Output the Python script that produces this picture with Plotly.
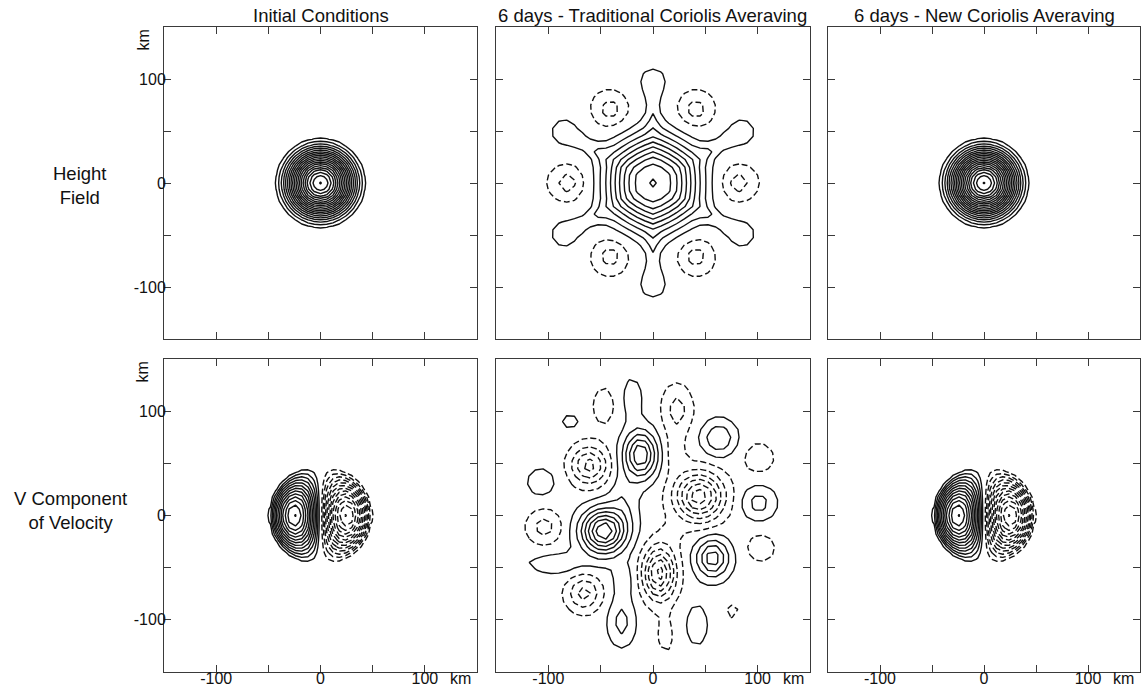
import numpy as np
import plotly.graph_objects as go

# ---------------- text ----------------
COLUMN_TITLES = ["Initial Conditions",
                 "6 days - Traditional Coriolis Averaving",
                 "6 days - New Coriolis Averaving"]
ROW_LABELS = ["Height<br>Field", "V Component<br>of Velocity"]
TICK_VALUES = [-100, -50, 0, 50, 100]
TICK_TEXT = ["-100", "", "0", "", "100"]
AXIS_RANGE = [-150, 150]

# ---------------- data (km, field units) ----------------
# compact height bump (initial and "new" scheme)
H_BUMP_RADIUS = [50, 50]          # initial, new
H_BUMP_PEAK = [20.1, 20.1]
H_BUMP_LEVELS = [1, 20, 1]         # start, end, step

# height after 6 days, traditional averaging
H_TRAD_CORE_PEAK = 10.06
H_TRAD_CORE_RADIUS = 45.4
H_TRAD_CORE_POWER = 2.46
H_TRAD_HEX_MIX = 0.55
H_TRAD_ARM_ANGLES = [30, 90, 150, 210, 270, 330]
H_TRAD_ARM_NECK_AMP = 1.15
H_TRAD_ARM_NECK_WIDTH = 5.0
H_TRAD_ARM_NECK_CENTER = 70
H_TRAD_ARM_NECK_HALF = 20
H_TRAD_ARM_KNOB_R = 98
H_TRAD_ARM_KNOB_AMP = 1.5
H_TRAD_ARM_KNOB_SIGMA = 13
H_TRAD_LOW_ANGLES = [0, 60, 120, 180, 240, 300]
H_TRAD_LOW_R = 81
H_TRAD_LOW_AMP = -2.0
H_TRAD_LOW_SIGMA = 12
H_TRAD_POS_LEVELS = [1, 10, 1]
H_TRAD_NEG_LEVELS = [-1.5, -0.5, 1]

# V component dipole (initial and "new" scheme)
V_DIPOLE_RADIUS = [50, 50]
V_DIPOLE_PEAK = [13.1, 13.1]
V_DIPOLE_POS_LEVELS = [1, 13, 1]
V_DIPOLE_NEG_LEVELS = [-13, -1, 1]

# V component after 6 days, traditional averaging: vortex blobs
V_TRAD_POS_X = [-12, -47, -30, 63, 101, 57, -107, -79, 42, -20, -28, -92, -28]
V_TRAD_POS_Y = [58, -15, -102, 74, 12, -41, 32, 90, -105, 112, 15, -46, -62]
V_TRAD_POS_AMP = [5.6, 7.5, 2.0, 2.6, 2.0, 4.2, 1.0, 1.0, 1.0, 1.1, 1.2, 1.2, 1.0]
V_TRAD_POS_SX = [10.7, 14.5, 8.4, 11, 10.8, 10.6, 11, 6, 8.5, 7, 9, 20, 8]
V_TRAD_POS_SY = [15.4, 14.5, 15, 11, 10.8, 12.5, 11, 6, 16, 15, 18, 7, 12]

V_TRAD_NEG_X = [44, 6, 12, 23, -47, -61, -104, -66, 101, 103, 76, 18, 20]
V_TRAD_NEG_Y = [18, -55, -115, 101, 105, 48, -11, -75, 55, -31, -92, -18, 60]
V_TRAD_NEG_AMP = [-6.2, -6.0, -0.9, -2.0, -1.0, -4.0, -2.0, -3.0, -1.0, -1.0, -1.0, -0.5, -0.9]
V_TRAD_NEG_SX = [15.5, 10.3, 6, 9.6, 8.5, 11.8, 10.8, 10.6, 12, 11, 5, 8, 8]
V_TRAD_NEG_SY = [15.5, 17, 14, 15.6, 14.4, 12.5, 10.8, 11, 12, 11, 5, 10, 14]
V_TRAD_POS_LEVELS = [0.5, 7.5, 1]
V_TRAD_NEG_LEVELS = [-7.5, -0.5, 1]

# ---------------- grids ----------------
FINE = np.arange(-150, 150.01, 6.0)
COARSE = np.arange(-150, 150.01, 7.5)


def mesh(g):
    X, Y = np.meshgrid(g, g)
    return X, Y, np.hypot(X, Y)


def bump(g, radius, peak):
    X, Y, R = mesh(g)
    return np.where(R < radius, peak * np.cos(np.pi * R / (2 * radius)) ** 2, 0.0)


def dipole(g, radius, peak):
    X, Y, R = mesh(g)
    ratio = np.where(R > 0, X / np.where(R > 0, R, 1), 0.0)
    return np.where(R < radius, -peak * ratio * np.sin(np.pi * R / radius), 0.0)


def h_traditional(g):
    X, Y, R = mesh(g)
    apo = np.max([np.abs(X * np.cos(np.radians(a)) + Y * np.sin(np.radians(a)))
                  for a in (0, 60, 120)], axis=0)
    r_eff = (1 - H_TRAD_HEX_MIX) * R + H_TRAD_HEX_MIX * apo / np.cos(np.radians(30))
    f = H_TRAD_CORE_PEAK * np.exp(-(r_eff / H_TRAD_CORE_RADIUS) ** H_TRAD_CORE_POWER)
    for ang in H_TRAD_ARM_ANGLES:
        c, s = np.cos(np.radians(ang)), np.sin(np.radians(ang))
        t = X * c + Y * s
        d = -X * s + Y * c
        f += (H_TRAD_ARM_NECK_AMP * np.exp(-d ** 2 / (2 * H_TRAD_ARM_NECK_WIDTH ** 2))
              * np.exp(-((t - H_TRAD_ARM_NECK_CENTER) / H_TRAD_ARM_NECK_HALF) ** 4))
        f += H_TRAD_ARM_KNOB_AMP * np.exp(-((t - H_TRAD_ARM_KNOB_R) ** 2 + d ** 2)
                                          / (2 * H_TRAD_ARM_KNOB_SIGMA ** 2))
    for ang in H_TRAD_LOW_ANGLES:
        x0 = H_TRAD_LOW_R * np.cos(np.radians(ang))
        y0 = H_TRAD_LOW_R * np.sin(np.radians(ang))
        f += H_TRAD_LOW_AMP * np.exp(-((X - x0) ** 2 + (Y - y0) ** 2) / (2 * H_TRAD_LOW_SIGMA ** 2))
    return f


def blobs(g, xs, ys, amps, sxs, sys_):
    X, Y, R = mesh(g)
    f = np.zeros_like(X)
    for x0, y0, a, sx, sy in zip(xs, ys, amps, sxs, sys_):
        f += a * np.exp(-((X - x0) ** 2 / (2 * sx ** 2) + (Y - y0) ** 2 / (2 * sy ** 2)))
    return f


def v_traditional(g):
    return (blobs(g, V_TRAD_POS_X, V_TRAD_POS_Y, V_TRAD_POS_AMP, V_TRAD_POS_SX, V_TRAD_POS_SY)
            + blobs(g, V_TRAD_NEG_X, V_TRAD_NEG_Y, V_TRAD_NEG_AMP, V_TRAD_NEG_SX, V_TRAD_NEG_SY))


# panel: (grid, field, [(levels, dashed), ...])
PANELS = [
    (FINE, bump(FINE, H_BUMP_RADIUS[0], H_BUMP_PEAK[0]), [(H_BUMP_LEVELS, False)]),
    (COARSE, h_traditional(COARSE), [(H_TRAD_POS_LEVELS, False), (H_TRAD_NEG_LEVELS, True)]),
    (FINE, bump(FINE, H_BUMP_RADIUS[1], H_BUMP_PEAK[1]), [(H_BUMP_LEVELS, False)]),
    (FINE, dipole(FINE, V_DIPOLE_RADIUS[0], V_DIPOLE_PEAK[0]),
     [(V_DIPOLE_POS_LEVELS, False), (V_DIPOLE_NEG_LEVELS, True)]),
    (COARSE, v_traditional(COARSE), [(V_TRAD_POS_LEVELS, False), (V_TRAD_NEG_LEVELS, True)]),
    (FINE, dipole(FINE, V_DIPOLE_RADIUS[1], V_DIPOLE_PEAK[1]),
     [(V_DIPOLE_POS_LEVELS, False), (V_DIPOLE_NEG_LEVELS, True)]),
]

# ---------------- layout geometry (pixels) ----------------
W, H = 1147, 699
COL_PX = [(164, 477), (496, 810), (828, 1140)]
ROW_PX = [(27, 339), (359, 672)]
FONT = "Liberation Sans, Arial, Helvetica, sans-serif"
INK = "#111111"
AXC = "#3a3a3a"

fig = go.Figure()
for i, (g, z, sets) in enumerate(PANELS):
    ax = "" if i == 0 else str(i + 1)
    for levels, dashed in sets:
        fig.add_trace(go.Contour(
            x=g, y=g, z=z,
            xaxis="x" + ax, yaxis="y" + ax,
            autocontour=False,
            contours=dict(start=levels[0], end=levels[1], size=levels[2],
                          coloring="none", showlabels=False),
            line=dict(color=INK, width=1.4, dash="6px,3px" if dashed else "solid",
                      smoothing=0),
            showscale=False, hoverinfo="skip",
        ))

layout = dict(width=W, height=H, autosize=False,
              margin=dict(l=0, r=0, t=0, b=0),
              paper_bgcolor="white", plot_bgcolor="white",
              showlegend=False, font=dict(family=FONT, color=INK))

for i in range(6):
    r, c = divmod(i, 3)
    ax = "" if i == 0 else str(i + 1)
    x0, x1 = COL_PX[c]
    y0, y1 = ROW_PX[r]
    common = dict(range=AXIS_RANGE, tickmode="array", tickvals=TICK_VALUES,
                  ticktext=TICK_TEXT, ticks="inside", ticklen=7, tickwidth=1,
                  tickcolor=AXC, showline=True, linecolor=AXC, linewidth=1,
                  mirror="ticks", showgrid=False, zeroline=False,
                  tickfont=dict(family=FONT, size=16, color=INK))
    layout["xaxis" + ax] = dict(common, domain=[x0 / W, x1 / W], anchor="y" + ax,
                                showticklabels=(r == 1), ticklabelstandoff=-8)
    layout["yaxis" + ax] = dict(common, domain=[1 - y1 / H, 1 - y0 / H], anchor="x" + ax,
                                showticklabels=(c == 0), ticklabelstandoff=-6)

ann = []
for c, t in enumerate(COLUMN_TITLES):
    ann.append(dict(text=t, xref="paper", yref="paper",
                    x=(COL_PX[c][0] + COL_PX[c][1]) / 2 / W, y=1 - 15.5 / H,
                    xanchor="center", yanchor="middle", showarrow=False,
                    font=dict(family=FONT, size=18.5, color=INK)))
ROW_LABEL_PX = [(79, 185), (70, 510)]
for r, t in enumerate(ROW_LABELS):
    ann.append(dict(text=t, xref="paper", yref="paper",
                    x=ROW_LABEL_PX[r][0] / W, y=1 - ROW_LABEL_PX[r][1] / H,
                    xanchor="center", yanchor="middle", align="center", showarrow=False,
                    font=dict(family=FONT, size=18.5, color=INK)))
for c in range(3):
    ax = str(4 + c)
    ann.append(dict(text="km", xref="x" + ax, yref="paper", x=134, y=1 - 678 / H,
                    xanchor="center", yanchor="middle", showarrow=False,
                    font=dict(family=FONT, size=16, color=INK)))
for r in range(2):
    ax = "" if r == 0 else "4"
    ann.append(dict(text="km", xref="paper", yref="y" + ax, x=142.5 / W, y=137.5,
                    xanchor="center", yanchor="middle", textangle=-90, showarrow=False,
                    font=dict(family=FONT, size=16, color=INK)))
layout["annotations"] = ann

fig.update_layout(**layout)
fig.write_html("out.html",
               config={"displayModeBar": False},
               post_script="document.body.style.margin='0px';"
                           "document.body.style.overflow='hidden';")
